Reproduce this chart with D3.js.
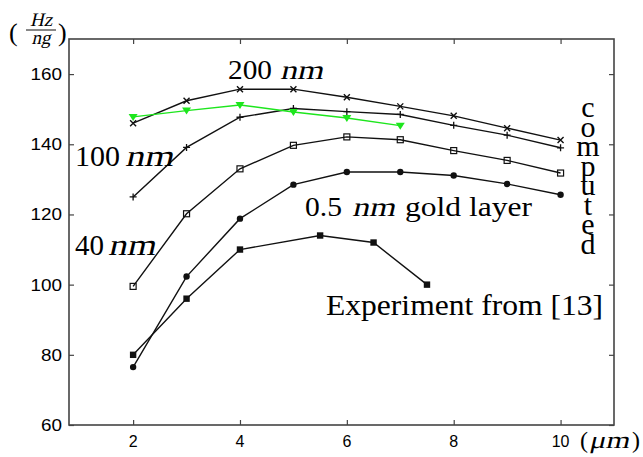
<!DOCTYPE html>
<html>
<head>
<meta charset="utf-8">
<script src="https://cdn.jsdelivr.net/npm/d3@7/dist/d3.min.js"></script>
<style>
  body { margin: 0; background: #fff; }
  svg { display: block; }
  .serif { font-family: 'Liberation Serif', 'Times New Roman', Times, serif; }
  .sans { font-family: 'Liberation Sans', Arial, Helvetica, sans-serif; }
</style>
</head>
<body>
<div id="chart"></div>
<script>
// values
const widths = [2, 3, 4, 5, 6, 7, 8, 9, 10];
const nm200 = [146.0, 152.4, 155.7, 155.7, 153.4, 150.8, 148.1, 144.6, 141.2];
const nm100 = [125.0, 139.1, 147.7, 150.2, 149.3, 148.5, 145.4, 142.6, 139.0];
const nm40 = [99.5, 120.2, 133.0, 139.7, 142.1, 141.3, 138.2, 135.4, 131.8];
const nm05 = [76.5, 102.3, 118.8, 128.5, 132.1, 132.1, 131.1, 128.7, 125.6];
const greenX = [2, 3, 4, 5, 6, 7];
const greenY = [147.8, 149.6, 151.2, 149.2, 147.5, 145.3];
const expX = [2, 3, 4, 5.5, 6.5, 7.5];
const expY = [80, 96, 110, 114, 112, 100];
const xTicks = [2, 4, 6, 8, 10];
const yTicks = [60, 80, 100, 120, 140, 160];

const W = 643, H = 457;
const m = { left: 69, right: 614, top: 39, bottom: 425 };

const svg = d3.select('#chart').append('svg')
  .attr('width', W)
  .attr('height', H);

const x = d3.scaleLinear().domain([0.8, 11]).range([m.left, m.right]);
const y = d3.scaleLinear().domain([60, 170]).range([m.bottom, m.top]);

// frame + inward ticks on all four sides
const frameColor = '#444';
svg.append('g')
  .attr('transform', `translate(0,${m.bottom})`)
  .call(d3.axisBottom(x).tickValues(xTicks).tickSize(-5).tickFormat(''))
  .call(g => g.select('.domain').remove());
svg.append('g')
  .attr('transform', `translate(0,${m.top})`)
  .call(d3.axisTop(x).tickValues(xTicks).tickSize(-5).tickFormat(''))
  .call(g => g.select('.domain').remove());
svg.append('g')
  .attr('transform', `translate(${m.left},0)`)
  .call(d3.axisLeft(y).tickValues(yTicks).tickSize(-5).tickFormat(''))
  .call(g => g.select('.domain').remove());
svg.append('g')
  .attr('transform', `translate(${m.right},0)`)
  .call(d3.axisRight(y).tickValues(yTicks).tickSize(-5).tickFormat(''))
  .call(g => g.select('.domain').remove());
svg.selectAll('.tick line').attr('stroke', frameColor).attr('stroke-width', 1.2);

svg.append('rect')
  .attr('x', m.left).attr('y', m.top)
  .attr('width', m.right - m.left).attr('height', m.bottom - m.top)
  .attr('fill', 'none')
  .attr('stroke', frameColor)
  .attr('stroke-width', 1.6);

// tick labels
svg.append('g').selectAll('text')
  .data(xTicks).enter().append('text')
  .attr('class', 'sans')
  .attr('x', d => x(d)).attr('y', 447)
  .attr('text-anchor', 'middle')
  .style('font-size', '16px')
  .text(d => d);
svg.append('g').selectAll('text')
  .data(yTicks).enter().append('text')
  .attr('class', 'sans')
  .attr('x', 62).attr('y', d => y(d) + 6)
  .attr('text-anchor', 'end')
  .attr('textLength', d => String(d).length * 10.5)
  .attr('lengthAdjust', 'spacingAndGlyphs')
  .style('font-size', '17px')
  .text(d => d);

// series
const line = d3.line().x(d => x(d[0])).y(d => y(d[1]));
const zip = (xs, ys) => xs.map((v, i) => [v, ys[i]]);

function drawSeries(pts, color) {
  svg.append('path')
    .datum(pts)
    .attr('d', line)
    .attr('fill', 'none')
    .attr('stroke', color)
    .attr('stroke-width', 1.4);
}

const s200 = zip(widths, nm200);
const s100 = zip(widths, nm100);
const s40 = zip(widths, nm40);
const s05 = zip(widths, nm05);
const sGreen = zip(greenX, greenY);
const sExp = zip(expX, expY);

const ink = '#111';
const green = '#1de61d';
[s200, s100, s40, s05, sExp].forEach(s => drawSeries(s, ink));
drawSeries(sGreen, green);

// markers
svg.append('g').selectAll('path').data(s200).enter().append('path')
  .attr('d', d => { const cx = x(d[0]), cy = y(d[1]), r = 3;
    return `M${cx - r},${cy - r}L${cx + r},${cy + r}M${cx - r},${cy + r}L${cx + r},${cy - r}`; })
  .attr('stroke', ink).attr('stroke-width', 1.4);

svg.append('g').selectAll('path').data(s100).enter().append('path')
  .attr('d', d => { const cx = x(d[0]), cy = y(d[1]), r = 3.5;
    return `M${cx - r},${cy}L${cx + r},${cy}M${cx},${cy - r}L${cx},${cy + r}`; })
  .attr('stroke', ink).attr('stroke-width', 1.3);

svg.append('g').selectAll('rect').data(s40).enter().append('rect')
  .attr('x', d => x(d[0]) - 3).attr('y', d => y(d[1]) - 3)
  .attr('width', 6).attr('height', 6)
  .attr('fill', 'none').attr('stroke', ink).attr('stroke-width', 1.2);

svg.append('g').selectAll('circle').data(s05).enter().append('circle')
  .attr('cx', d => x(d[0])).attr('cy', d => y(d[1]))
  .attr('r', 3.2).attr('fill', ink);

svg.append('g').selectAll('rect').data(sExp).enter().append('rect')
  .attr('x', d => x(d[0]) - 3.2).attr('y', d => y(d[1]) - 3.2)
  .attr('width', 6.4).attr('height', 6.4)
  .attr('fill', ink);

svg.append('g').selectAll('path').data(sGreen).enter().append('path')
  .attr('d', d => { const cx = x(d[0]), cy = y(d[1]);
    return `M${cx - 4.5},${cy - 3}L${cx + 4.5},${cy - 3}L${cx},${cy + 4}Z`; })
  .attr('fill', green);

// annotations (LaTeX-looking serif); math italic is faked with a skew
function label(str, px, py, size, len, italic, anchor) {
  const t = svg.append('text')
    .attr('class', 'serif')
    .attr('transform', `translate(${px},${py})` + (italic ? ' skewX(-13)' : ''))
    .attr('text-anchor', anchor || 'start')
    .style('font-size', size + 'px')
    .text(str);
  if (len) t.attr('textLength', len).attr('lengthAdjust', 'spacingAndGlyphs');
  return t;
}

label('200', 228, 79, 27, 44, false);
label('nm', 280, 79, 27, 43, true);

label('100', 75, 165.5, 30, 45, false);
label('nm', 125, 165.5, 30, 48, true);

label('40', 75, 255, 30, 29, false);
label('nm', 108, 255, 30, 47, true);

label('0.5', 305, 216, 27, 37, false);
label('nm', 352, 216, 27, 43, true);
label('gold layer', 405, 216, 27, 127, false);

label('Experiment from [13]', 326, 315, 30, 277, false);

// "computed" written as a vertical column of letters
svg.append('g').selectAll('text')
  .data('computed'.split('')).enter().append('text')
  .attr('class', 'serif')
  .attr('x', 588).attr('y', (d, i) => 117 + i * 19.5)
  .attr('text-anchor', 'middle')
  .style('font-size', '30px')
  .text(d => d);

// x unit (μm)
label('(', 580, 448, 24, 0, false);
label('μm', 589, 448, 24, 40, true);
label(')', 632, 448, 24, 0, false);

// y unit: (Hz / ng)
label('(', 9, 41, 26, 0, false);
label(')', 58, 41, 26, 0, false);
label('Hz', 41, 26, 19, 0, true, 'middle');
svg.append('line')
  .attr('x1', 26).attr('x2', 56).attr('y1', 30).attr('y2', 30)
  .attr('stroke', ink).attr('stroke-width', 1);
label('ng', 41, 44, 19, 0, true, 'middle');
</script>
</body>
</html>
